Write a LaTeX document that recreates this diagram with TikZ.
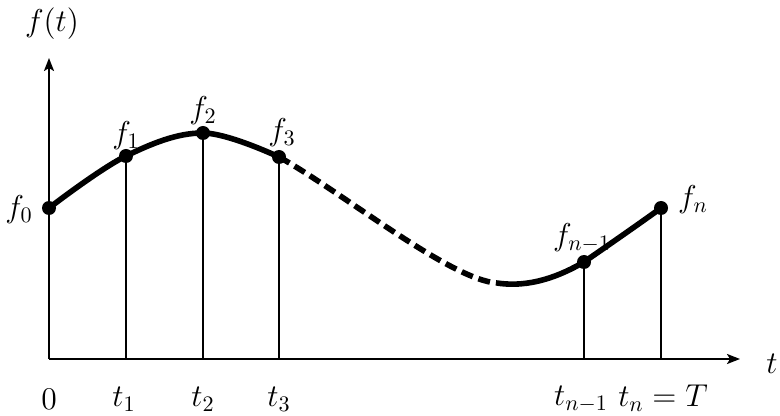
\RequirePackage{fix-cm}
\documentclass[tikz,border=0pt]{standalone}
\usetikzlibrary{arrows.meta}
\begin{document}
\begin{tikzpicture}[x=0.5pt,y=-0.5pt,
  axis/.style={line width=1.1pt,-{Stealth[length=6.5pt,width=5pt,inset=1.5pt]}},
  curve/.style={line width=2.8pt},
  dashcurve/.style={line width=2.8pt,dash pattern=on 6pt off 3pt},
  ordinate/.style={line width=1pt},
  dot/.style={circle,fill=black,inner sep=0pt,minimum size=7pt},
  lbl/.style={inner sep=0pt,font=\fontsize{15.8}{19}\selectfont}]
\useasboundingbox (0,0) rectangle (780,416);
% axes
\coordinate (O) at (49,359);
\coordinate (ytop) at (49,58);
\coordinate (xend) at (740,359);
\draw[axis] (O) -- (ytop);
\draw[axis] (O) -- (xend);
% sample points
\coordinate (p0) at (49,208);
\coordinate (p1) at (126,156);
\coordinate (p2) at (203,133);
\coordinate (p3) at (279,157);
\coordinate (m) at (497,283);
\coordinate (pn1) at (584,262);
\coordinate (pn) at (661,208);
% feet on the t axis
\coordinate (b1) at (126,359);
\coordinate (b2) at (203,359);
\coordinate (b3) at (279,359);
\coordinate (bn1) at (584,359);
\coordinate (bn) at (661,359);
\draw[ordinate] (p1) -- (b1);
\draw[ordinate] (p2) -- (b2);
\draw[ordinate] (p3) -- (b3);
\draw[ordinate] (pn1) -- (bn1);
\draw[ordinate] (pn) -- (bn);
% curve
\draw[curve,line cap=round] plot[smooth,tension=0.6] coordinates {(p0) (p1) (p2) (p3)};
\draw[dashcurve] (p3) .. controls (339,190) and (450,280) .. (m);
\draw[curve] (m) .. controls (530,288) and (560,276) .. (pn1);
\draw[curve] (pn1) .. controls (610,244) and (636,226) .. (pn);
% dots
\node[dot] (d0) at (p0) {};
\node[dot] (d1) at (p1) {};
\node[dot] (d2) at (p2) {};
\node[dot] (d3) at (p3) {};
\node[dot] (dn1) at (pn1) {};
\node[dot] (dn) at (pn) {};
% labels
\node[lbl] (lft) at (52,24) {$f(t)$};
\node[lbl] (lt) at (772,364) {$t$};
\node[lbl] (lf0) at (19,210) {$f_0$};
\node[lbl] (lf1) at (126,136) {$f_1$};
\node[lbl] (lf2) at (203,111) {$f_2$};
\node[lbl] (lf3) at (282,133) {$f_3$};
\node[lbl] (lfn1) at (582,238) {$f_{n-1}$};
\node[lbl] (lfn) at (693,200) {$f_n$};
\node[lbl] (l0) at (49,399) {$0$};
\node[lbl] (lt1) at (124,399) {$t_1$};
\node[lbl] (lt2) at (203,399) {$t_2$};
\node[lbl] (lt3) at (279,399) {$t_3$};
\node[lbl] (ltn1) at (581,399) {$t_{n-1}$};
\node[lbl] (ltn) at (663,398) {$t_n = T$};
\end{tikzpicture}
\end{document}
